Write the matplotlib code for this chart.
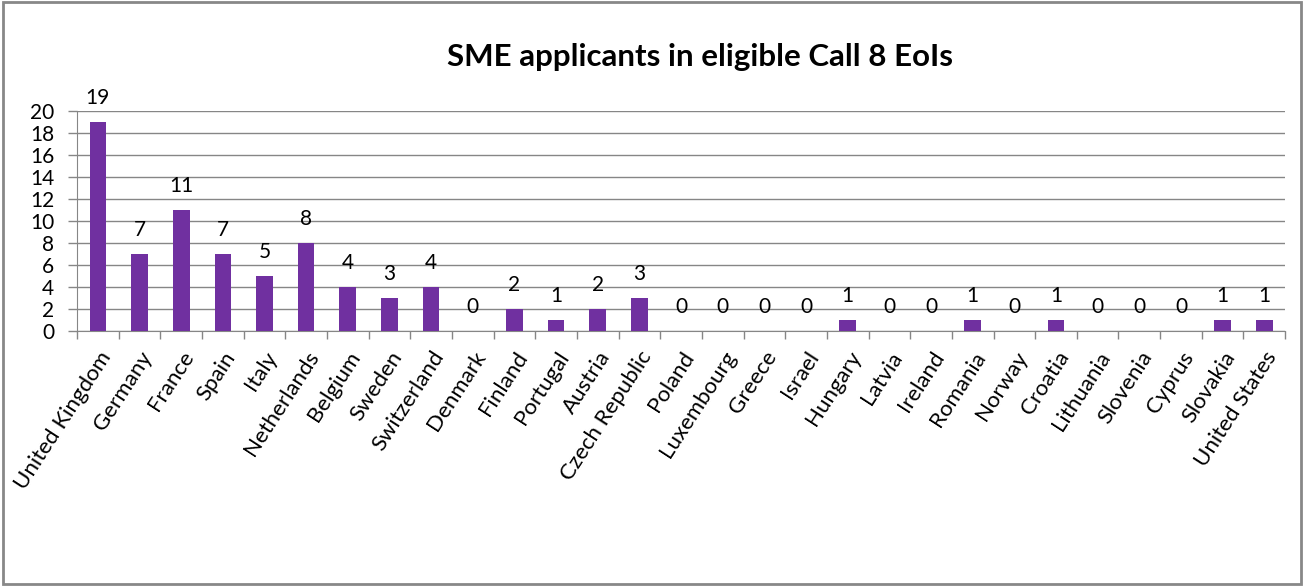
import matplotlib
matplotlib.use("Agg")
import matplotlib.pyplot as plt
from matplotlib.patches import Rectangle
from matplotlib.ticker import FixedLocator

countries = ["United Kingdom", "Germany", "France", "Spain", "Italy", "Netherlands",
             "Belgium", "Sweden", "Switzerland", "Denmark", "Finland", "Portugal",
             "Austria", "Czech Republic", "Poland", "Luxembourg", "Greece", "Israel",
             "Hungary", "Latvia", "Ireland", "Romania", "Norway", "Croatia",
             "Lithuania", "Slovenia", "Cyprus", "Slovakia", "United States"]
values = [19, 7, 11, 7, 5, 8, 4, 3, 4, 0, 2, 1, 2, 3, 0, 0, 0, 0, 1, 0, 0, 1, 0, 1,
          0, 0, 0, 1, 1]
title = "SME applicants in eligible Call 8 EoIs"
yticks = list(range(0, 21, 2))

plt.rcParams['font.family'] = ['Lato', 'DejaVu Sans']

fig = plt.figure(figsize=(13.06, 5.86), dpi=100)
ax = fig.add_axes([0.059, 0.435, 0.925, 0.376])

x = list(range(len(countries)))
ax.bar(x, values, width=0.4, color="#7030A0", zorder=3)
for xi, v in zip(x, values):
    ax.annotate(str(v), (xi, v), xytext=(0, 10), textcoords="offset points",
                ha="center", va="bottom", fontsize=15, color="#000000")

ax.set_xlim(-0.5, len(countries) - 0.5)
ax.set_ylim(0, 20)
ax.set_yticks(yticks)
ax.set_yticklabels([str(t) for t in yticks], fontsize=15)
ax.yaxis.grid(True, color="#868686", linewidth=1, zorder=0)
ax.set_axisbelow(True)

ax.set_xticks(x)
ax.set_xticklabels(countries, rotation=57, ha="right", rotation_mode="anchor", fontsize=16)
ax.tick_params(axis="x", which="major", length=0, pad=12)
ax.xaxis.set_minor_locator(FixedLocator([i - 0.5 for i in range(len(countries) + 1)]))
ax.tick_params(axis="x", which="minor", length=6, color="#868686", width=1)
ax.tick_params(axis="y", length=6.5, color="#868686", width=1, pad=10)

for s in ["top", "right"]:
    ax.spines[s].set_visible(False)
ax.spines["left"].set_color("#868686")
ax.spines["bottom"].set_color("#868686")

fig.text(0.536, 0.902, title, ha="center", va="center", fontsize=22.5, fontweight="bold")

fig.patches.append(Rectangle((0.002, 0.004), 0.994, 0.992, transform=fig.transFigure,
                             fill=False, edgecolor="#888888", linewidth=2))

fig.savefig("out.png", dpi=100)
